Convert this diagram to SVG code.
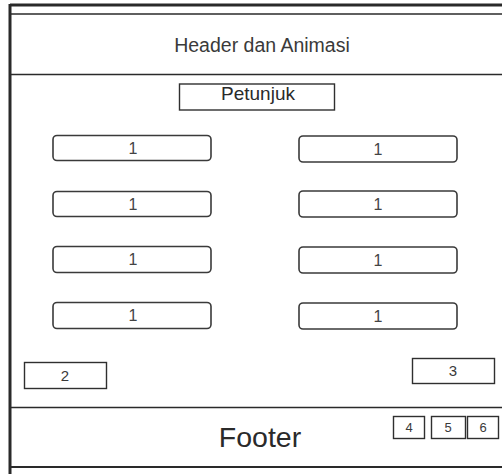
<svg xmlns="http://www.w3.org/2000/svg" width="502" height="474" viewBox="0 0 502 474">
<style>
.frame{fill:none;stroke:#2a2a2a}
.btn{fill:#fff;stroke:#3a3a3a;stroke-width:1.6}
.box{fill:#fff;stroke:#2f2f2f;stroke-width:1.4}
text{font-family:"Liberation Sans",Arial,sans-serif;fill:#3a3a3a;text-anchor:middle}
.t1{font-size:16px;fill:#444}
.t2{font-size:15px}
.t3{font-size:13px}
</style>
<rect width="502" height="474" fill="#fff"/>
<g id="frame">
<line class="frame" x1="10" y1="5" x2="502" y2="5" stroke-width="3"/>
<line class="frame" x1="11" y1="14" x2="502" y2="14" stroke-width="1.3"/>
<line class="frame" x1="10" y1="4" x2="10" y2="474" stroke-width="3"/>
<line class="frame" x1="11" y1="74.5" x2="502" y2="74.5" stroke-width="1.4"/>
<line class="frame" x1="11" y1="407.5" x2="502" y2="407.5" stroke-width="1.4"/>
<line class="frame" x1="11" y1="467" x2="502" y2="467" stroke-width="2"/>
</g>
<g id="header"><text x="262" y="52" style="font-size:19.5px">Header dan Animasi</text></g>
<g id="petunjuk"><rect class="box" x="179.5" y="84" width="155" height="26"/><text x="258" y="100" style="font-size:19px;fill:#2a2a2a">Petunjuk</text></g>
<g id="l1"><rect class="btn" x="53" y="135.5" width="158" height="25" rx="4"/><text class="t1" x="133" y="154">1</text></g>
<g id="l2"><rect class="btn" x="53" y="191.5" width="158" height="25" rx="4"/><text class="t1" x="133" y="210">1</text></g>
<g id="l3"><rect class="btn" x="53" y="246.5" width="158" height="26" rx="4"/><text class="t1" x="133" y="265">1</text></g>
<g id="l4"><rect class="btn" x="53" y="302.5" width="158" height="26" rx="4"/><text class="t1" x="133" y="321">1</text></g>
<g id="r1"><rect class="btn" x="299" y="136" width="158" height="26" rx="4"/><text class="t1" x="378" y="155">1</text></g>
<g id="r2"><rect class="btn" x="299" y="191" width="158" height="26" rx="4"/><text class="t1" x="378" y="210">1</text></g>
<g id="r3"><rect class="btn" x="299" y="247" width="158" height="26" rx="4"/><text class="t1" x="378" y="266">1</text></g>
<g id="r4"><rect class="btn" x="299" y="303" width="158" height="26" rx="4"/><text class="t1" x="378" y="322">1</text></g>
<g id="b2"><rect class="box" x="24.5" y="362.5" width="82" height="26"/><text class="t2" x="65" y="381">2</text></g>
<g id="b3"><rect class="box" x="412.5" y="358.5" width="82" height="25"/><text class="t2" x="453" y="376">3</text></g>
<g id="footer"><text x="260" y="447" style="font-size:28.5px;fill:#2a2a2a">Footer</text></g>
<g id="b4"><rect class="box" x="393.5" y="416.5" width="31" height="22"/><text class="t3" x="409" y="432">4</text></g>
<g id="b5"><rect class="box" x="431.5" y="416.5" width="34" height="22"/><text class="t3" x="448" y="432">5</text></g>
<g id="b6"><rect class="box" x="467.5" y="416.5" width="31" height="22"/><text class="t3" x="483" y="432">6</text></g>
<g id="connectors"/>
</svg>
